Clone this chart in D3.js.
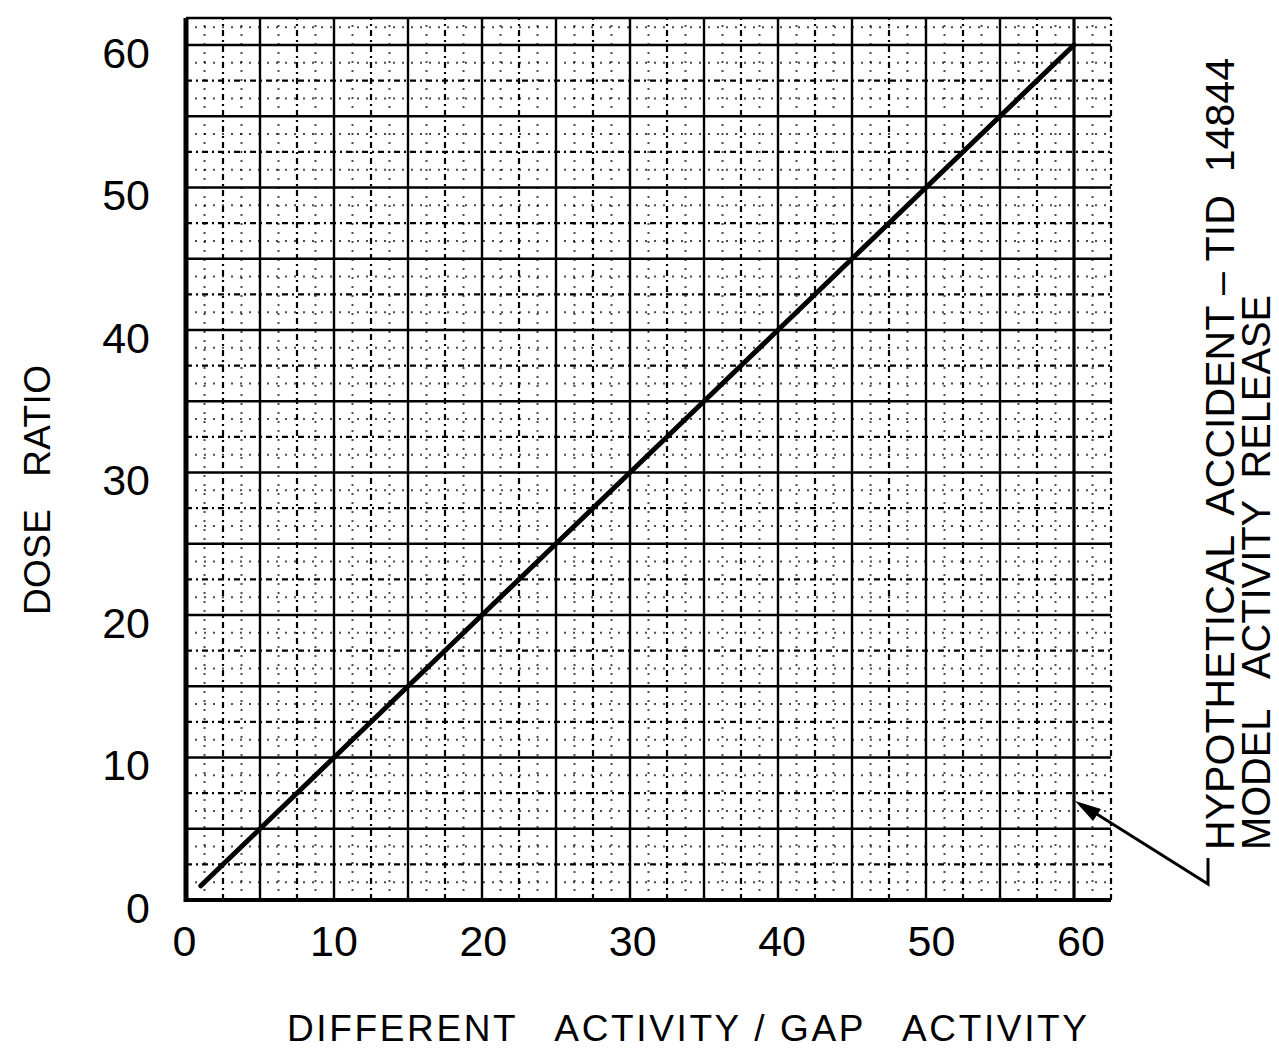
<!DOCTYPE html>
<html>
<head>
<meta charset="utf-8">
<script src="https://cdn.jsdelivr.net/npm/d3@7"></script>
<style>
  html, body { margin: 0; padding: 0; background: #fff; }
  svg { display: block; }
  text { font-family: "Liberation Sans", "DejaVu Sans", sans-serif; fill: #000; white-space: pre; }
</style>
</head>
<body>
<svg id="chart" width="1279" height="1050"></svg>
<script>
// ---- data ----
const ratioX = [1, 5, 10, 15, 20, 25, 30, 35, 40, 45, 50, 55, 60];
const doseY  = [1, 5, 10, 15, 20, 25, 30, 35, 40, 45, 50, 55, 60];
const xTicks = [0, 10, 20, 30, 40, 50, 60];
const yTicks = [0, 10, 20, 30, 40, 50, 60];
const xTitle = "DIFFERENT   ACTIVITY / GAP   ACTIVITY";
const yTitle = "DOSE   RATIO";
const noteLine1 = "HYPOTHETICAL  ACCIDENT – TID  14844";
const noteLine2 = "MODEL   ACTIVITY  RELEASE";

// ---- layout ----
const svg = d3.select("#chart");
const x = d3.scaleLinear().domain([0, 60]).range([186, 1074]);
const y = d3.scaleLinear().domain([0, 60]).range([900, 45]);
const gridXMax = 62.5, gridYMax = 61.9;

const grid = svg.append("g");
// fine dotted lines every 1.25 (excluding 2.5 multiples)
const fine = d3.range(1.25, 62.6, 2.5);
grid.selectAll("line.fv").data(fine.filter(v => v <= gridXMax)).enter().append("line")
  .attr("x1", d => x(d)).attr("x2", d => x(d)).attr("y1", y(0)).attr("y2", y(gridYMax))
  .attr("stroke", "#000").attr("stroke-width", 2).attr("stroke-dasharray", "2,7").attr("opacity", 0.7);
grid.selectAll("line.fh").data(fine.filter(v => v <= gridYMax)).enter().append("line")
  .attr("y1", d => y(d)).attr("y2", d => y(d)).attr("x1", x(0)).attr("x2", x(gridXMax))
  .attr("stroke", "#000").attr("stroke-width", 2).attr("stroke-dasharray", "2,7").attr("opacity", 0.7);

// medium dash-dot lines at 2.5 offsets
const mid = d3.range(2.5, 62.6, 5);
grid.selectAll("line.mv").data(mid.filter(v => v <= gridXMax)).enter().append("line")
  .attr("x1", d => x(d)).attr("x2", d => x(d)).attr("y1", y(0)).attr("y2", y(gridYMax))
  .attr("stroke", "#000").attr("stroke-width", 2.2).attr("stroke-dasharray", "6,4,2,4");
grid.selectAll("line.mh").data(mid.filter(v => v <= gridYMax)).enter().append("line")
  .attr("y1", d => y(d)).attr("y2", d => y(d)).attr("x1", x(0)).attr("x2", x(gridXMax))
  .attr("stroke", "#000").attr("stroke-width", 2.2).attr("stroke-dasharray", "6,4,2,4");

// major solid lines every 5
const major = d3.range(5, 61, 5);
grid.selectAll("line.Mv").data(major).enter().append("line")
  .attr("x1", d => x(d)).attr("x2", d => x(d)).attr("y1", y(0)).attr("y2", y(gridYMax))
  .attr("stroke", "#000").attr("stroke-width", d => d === 60 ? 3.2 : 2.4);
grid.selectAll("line.Mh").data(major).enter().append("line")
  .attr("y1", d => y(d)).attr("y2", d => y(d)).attr("x1", x(0)).attr("x2", x(gridXMax))
  .attr("stroke", "#000").attr("stroke-width", 2.4);

// frame: left and bottom axes, top edge
grid.append("line").attr("x1", x(0)).attr("x2", x(0)).attr("y1", y(0) + 2).attr("y2", y(gridYMax))
  .attr("stroke", "#000").attr("stroke-width", 5);
grid.append("line").attr("x1", x(0) - 2).attr("x2", x(gridXMax)).attr("y1", y(0)).attr("y2", y(0))
  .attr("stroke", "#000").attr("stroke-width", 4);
grid.append("line").attr("x1", x(0)).attr("x2", x(gridXMax)).attr("y1", y(gridYMax)).attr("y2", y(gridYMax))
  .attr("stroke", "#000").attr("stroke-width", 2.5);

// ---- data line ----
const line = d3.line().x((d, i) => x(ratioX[i])).y((d, i) => y(doseY[i]));
svg.append("path").datum(ratioX).attr("d", line)
  .attr("fill", "none").attr("stroke", "#000").attr("stroke-width", 5).attr("stroke-linecap", "round");

// ---- axes ----
const xAxis = d3.axisBottom(x).tickValues(xTicks).tickSize(0).tickPadding(25);
const gx = svg.append("g").attr("transform", `translate(0,${y(0)})`).call(xAxis);
gx.select(".domain").remove();
gx.selectAll("text").style("font-family", "Liberation Sans, sans-serif").attr("font-size", 43)
  .attr("dx", (d, i) => i * 1.4 - 2);

const yAxis = d3.axisLeft(y).tickValues(yTicks).tickSize(0).tickPadding(36);
const gy = svg.append("g").attr("transform", `translate(${x(0)},0)`).call(yAxis);
gy.select(".domain").remove();
gy.selectAll("text").style("font-family", "Liberation Sans, sans-serif").attr("font-size", 43).attr("dy", "0.52em");

// ---- titles ----
svg.append("text").attr("x", 287).attr("y", 1041)
  .attr("font-size", 37).attr("textLength", 800).attr("lengthAdjust", "spacing")
  .text(xTitle);

svg.append("text").attr("transform", "translate(50,615) rotate(-90)")
  .attr("font-size", 37).attr("textLength", 250).attr("lengthAdjust", "spacing")
  .text(yTitle);

svg.append("text").attr("transform", "translate(1234,850) rotate(-90)")
  .attr("font-size", 40).attr("textLength", 792).attr("lengthAdjust", "spacingAndGlyphs")
  .text(noteLine1);
svg.append("text").attr("transform", "translate(1270,850) rotate(-90)")
  .attr("font-size", 40).attr("textLength", 555).attr("lengthAdjust", "spacingAndGlyphs")
  .text(noteLine2);

// ---- callout arrow ----
svg.append("path").attr("d", "M1208,858 L1208,884 L1084,806")
  .attr("fill", "none").attr("stroke", "#000").attr("stroke-width", 3);
svg.append("path").attr("d", "M1075,801 L1101,809 L1093,821 Z").attr("fill", "#000");
</script>
</body>
</html>
